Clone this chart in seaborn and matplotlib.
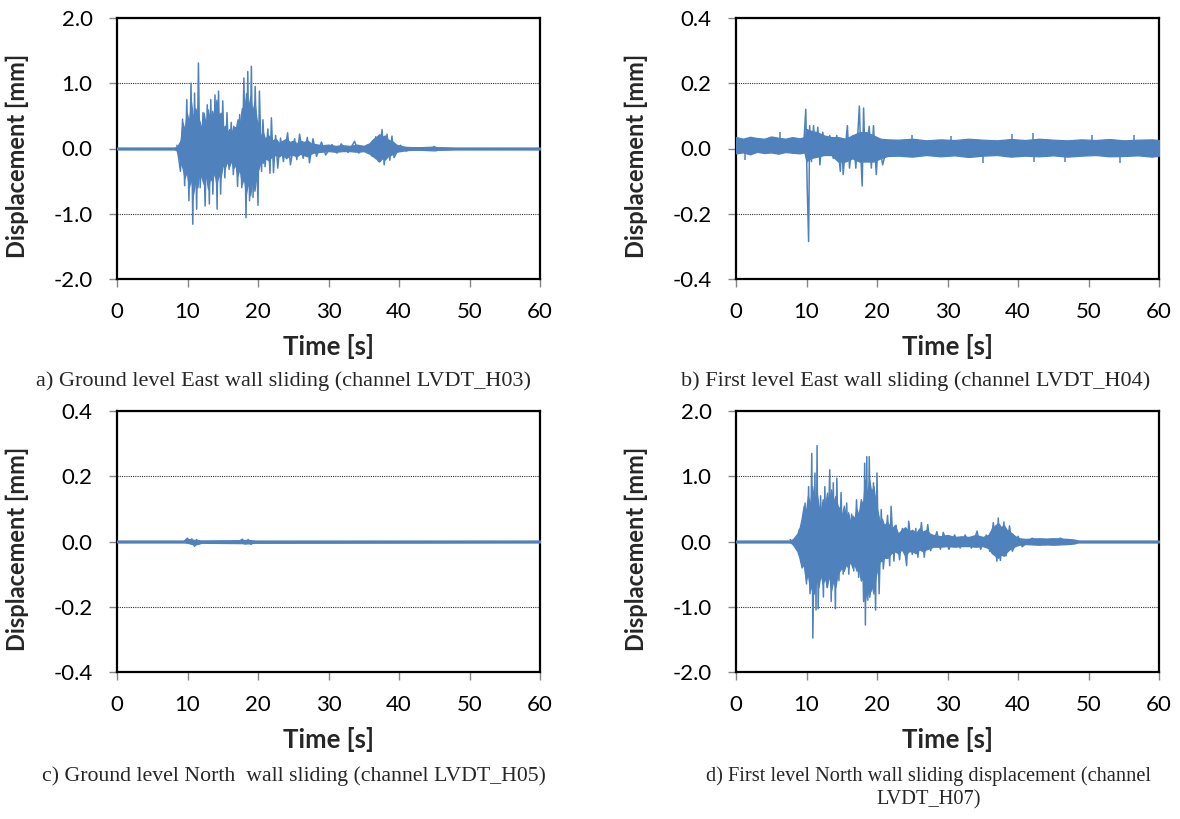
import matplotlib
matplotlib.use("Agg")
import matplotlib.pyplot as plt
import pandas as pd
import seaborn as sns
from matplotlib.ticker import FormatStrFormatter, MultipleLocator

sns.set_theme(style="white")
plt.rcParams["font.family"] = ["Lato", "DejaVu Sans"]
plt.rcParams["axes.unicode_minus"] = False

BLUE = "#4F81BD"

# ---------------- a) LVDT_H03 : ground level, East wall ----------------
# dense core of the record (upper / lower envelope)
a_env_t = [0, 8.0,
           8.4, 8.7, 9.0, 9.3, 9.6, 9.9, 10.2, 10.5, 10.8, 11.1, 11.4, 11.7, 12.0, 12.3, 12.6,
           12.9, 13.2, 13.5, 13.8, 14.1, 14.4, 14.7, 15.0, 15.3, 15.6, 15.9, 16.2, 16.5, 16.8,
           17.1, 17.4, 17.7, 18.0, 18.3, 18.6, 18.9, 19.2, 19.5, 19.8, 20.1, 20.4, 20.7, 21.0,
           21.5, 22.0, 22.5, 23.0, 23.5, 24.0, 24.5, 25.0, 25.5, 26.0, 26.5, 27.0, 27.5, 28.0,
           29.0, 30.0, 31.0, 32.0, 33.0, 34.0, 35.0, 35.8, 36.3, 36.8, 37.2, 37.6, 38.0, 38.4,
           38.8, 39.2, 39.6, 40.2, 41.0, 42.0, 43.0, 44.0, 45.0, 45.5, 46.0, 48.0, 52.0, 56.0,
           60.0]
a_env_hi = [0.015, 0.015,
            0.02, 0.06, 0.12, 0.40, 0.28, 0.55, 0.40, 0.72, 0.45, 0.62, 0.50, 0.42, 0.30, 0.55,
            0.35, 0.60, 0.40, 0.58, 0.45, 0.75, 0.50, 0.55, 0.30, 0.35, 0.22, 0.30, 0.20, 0.35,
            0.28, 0.45, 0.35, 0.62, 0.50, 0.85, 0.60, 0.80, 0.55, 0.72, 0.45, 0.35, 0.18, 0.25,
            0.15,
            0.20, 0.12, 0.15, 0.08, 0.12, 0.15, 0.10, 0.12, 0.08, 0.12, 0.10, 0.12, 0.08, 0.07,
            0.05, 0.06, 0.04, 0.05, 0.04, 0.06, 0.04, 0.08, 0.14, 0.18, 0.22, 0.18, 0.20, 0.14,
            0.12, 0.10, 0.06, 0.04, 0.025, 0.02, 0.02, 0.025, 0.03, 0.02, 0.02, 0.015, 0.015,
            0.015, 0.015]
a_env_lo = [-0.015, -0.015,
            -0.02, -0.10, -0.22, -0.30, -0.45, -0.35, -0.60, -0.45, -0.70, -0.50, -0.60, -0.35,
            -0.45, -0.55, -0.40, -0.62, -0.45, -0.50, -0.35, -0.55, -0.40, -0.45, -0.25, -0.30,
            -0.20, -0.28, -0.18, -0.30, -0.25, -0.42, -0.30, -0.55, -0.45, -0.70, -0.50, -0.72,
            -0.45, -0.65, -0.40, -0.30, -0.20, -0.22, -0.15,
            -0.18, -0.12, -0.10, -0.12, -0.08, -0.15, -0.10, -0.10, -0.12, -0.08, -0.10, -0.12,
            -0.08, -0.06, -0.05, -0.04, -0.05, -0.04, -0.04, -0.05, -0.04, -0.08, -0.12, -0.16,
            -0.20, -0.15, -0.17, -0.12, -0.10, -0.08, -0.05, -0.04, -0.025, -0.02, -0.02, -0.025,
            -0.03, -0.02, -0.02, -0.015, -0.015, -0.015, -0.015]
# individual peaks
a_pk_t = [8.5, 9.0, 9.3, 9.6, 9.9, 10.2, 10.5, 10.75, 11.0, 11.3, 11.55, 11.8, 12.2, 12.5, 12.8,
          13.1, 13.3, 13.6, 13.9, 14.2, 14.4, 14.7, 15.0, 15.3, 15.6, 15.9, 16.2, 16.5, 16.8,
          17.1, 17.4, 17.7, 18.0, 18.3, 18.55, 18.8, 19.06, 19.3, 19.6, 20.0, 20.2, 20.5, 20.7,
          21.0, 21.4, 21.7, 21.9, 22.2, 22.5, 22.8, 23.2, 23.6, 24.2, 24.6, 25.2, 25.5, 25.9,
          26.4, 27.0, 27.3, 27.8, 28.3, 29.0, 29.6, 30.5, 31.2, 31.8, 32.8, 33.7, 34.3, 35.5,
          36.2, 36.7, 37.1, 37.6, 37.9, 38.3, 38.7, 39.0, 39.3, 40.2, 41.0, 42.0, 44.7, 45.0,
          45.3, 46.0]
a_pk_v = [0.05, -0.35, 0.45, -0.57, 0.75, -0.80, 1.00, -1.16, 0.85, -0.93, 1.31, -0.60, 0.55,
          -0.88, 0.67, -0.85, 0.75, -0.70, 0.82, -0.93, 0.88, -0.70, 0.73, -0.45, 0.55, -0.32,
          0.40, -0.40, 0.32, -0.58, 0.52, -0.60, 1.08, -1.06, 1.18, -0.80, 1.26, -0.75, 0.95,
          -0.87, 0.88, -0.35, 0.44, -0.28, 0.30, -0.38, 0.47, -0.37, 0.20, -0.30, 0.16, -0.20,
          0.24, -0.25, 0.15, -0.17, 0.22, -0.15, 0.17, -0.22, 0.15, -0.12, 0.10, -0.10, 0.06,
          -0.07, 0.07, -0.06, 0.11, -0.07, 0.05, -0.12, 0.18, -0.20, 0.29, -0.25, 0.22, -0.18,
          0.19, -0.14, 0.05, -0.04, 0.01, 0.0, 0.03, -0.03, 0.01]

# ---------------- b) LVDT_H04 : first level, East wall ----------------
b_env_t = [0, 1, 2, 3, 4, 5, 6, 7, 8, 9, 9.7,
           10.0, 10.5, 11.5, 12.5, 13.5, 14.5, 15.5, 16.5, 17.5, 18.5, 19.5, 20.5, 21.5,
           23, 25, 27, 29, 31, 33, 35, 37, 39, 41, 43, 45, 47, 49, 51, 53, 55, 57, 59, 60]
b_env_hi = [0.035, 0.030, 0.036, 0.032, 0.030, 0.037, 0.033, 0.030, 0.035, 0.031, 0.035,
            0.060, 0.055, 0.050, 0.040, 0.035, 0.035, 0.030, 0.040, 0.050, 0.050, 0.040, 0.030,
            0.028,
            0.027, 0.030, 0.025, 0.028, 0.026, 0.030, 0.027, 0.025, 0.029, 0.026, 0.030, 0.027,
            0.025, 0.028, 0.026, 0.029, 0.025, 0.027, 0.028, 0.026]
b_env_lo = [-0.015, -0.012, -0.018, -0.010, -0.014, -0.012, -0.016, -0.011, -0.013, -0.015,
            -0.012,
            -0.040, -0.030, -0.025, -0.020, -0.020, -0.040, -0.040, -0.030, -0.040, -0.040,
            -0.040, -0.030, -0.023,
            -0.022, -0.025, -0.020, -0.024, -0.021, -0.026, -0.022, -0.020, -0.025, -0.022,
            -0.024, -0.021, -0.025, -0.022, -0.020, -0.024, -0.023, -0.021, -0.025, -0.022]
b_pk_t = [9.6, 9.9, 10.1, 10.3, 10.45, 10.7, 11.0, 11.3, 11.6, 11.9, 12.3, 12.8, 13.3, 13.8,
          14.3, 14.8, 15.0, 15.2, 15.5, 15.8, 16.1, 16.6, 17.0, 17.5, 17.7, 17.9, 18.1, 18.3,
          18.9, 19.2, 19.5, 19.9, 20.2, 20.8, 21.5]
b_pk_v = [0.01, 0.12, -0.12, -0.285, 0.07, -0.04, 0.07, -0.02, 0.065, -0.05, 0.05, -0.02, 0.04,
          -0.03, 0.04, -0.07, 0.03, -0.08, 0.0, 0.07, -0.06, 0.04, -0.06, 0.13, -0.02, -0.115,
          0.124, -0.03, 0.068, -0.06, 0.07, -0.08, 0.03, -0.05, 0.01]
b_spike_t = [1.3, 6.2, 25.0, 30.5, 35.0, 39.1, 42.1, 42.3, 46.6, 50.5, 54.4, 56.5]
b_spike_v = [-0.035, 0.05, 0.04, 0.038, -0.044, 0.045, 0.046, -0.042, -0.042, 0.04, -0.044, 0.04]

# ---------------- c) LVDT_H05 : ground level, North wall ----------------
c_env_t = [0, 9.5, 10.0, 11.0, 12.0, 17.5, 18.5, 19.5, 60]
c_env_hi = [0.003, 0.003, 0.008, 0.005, 0.003, 0.004, 0.005, 0.003, 0.003]
c_env_lo = [-0.003, -0.003, -0.004, -0.010, -0.004, -0.005, -0.006, -0.004, -0.003]
c_pk_t = [9.6, 10.0, 10.3, 10.6, 11.0, 11.3, 11.6, 12.0, 17.3, 17.8, 18.2, 18.6, 19.0, 19.4]
c_pk_v = [0.002, 0.010, -0.004, 0.008, -0.015, 0.006, -0.007, 0.0, 0.0, 0.007, -0.008, 0.006,
          -0.009, 0.0]

# ---------------- d) LVDT_H07 : first level, North wall ----------------
d_env_t = [0, 7.5,
           7.8, 8.1, 8.4, 8.7, 9.0, 9.3, 9.6, 9.9, 10.2, 10.5, 10.8, 11.1, 11.4, 11.7, 12.0,
           12.3, 12.6, 12.9, 13.2, 13.5, 13.8, 14.1, 14.4, 14.7, 15.0, 15.3, 15.6, 15.9, 16.2,
           16.5, 16.8, 17.1, 17.4, 17.7, 18.0, 18.3, 18.6, 18.9, 19.2, 19.5, 19.8, 20.1, 20.4,
           20.7, 21.0,
           21.5, 22.0, 22.5, 23.0, 23.5, 24.0, 24.5, 25.0, 25.5, 26.0, 26.5, 27.0, 27.5, 28.0,
           29.0, 30.0, 31.0, 32.0, 33.0, 34.0, 35.0, 35.8, 36.3, 36.8, 37.2, 37.6, 38.0, 38.4,
           38.8, 39.2, 39.6, 40.2, 41.0, 42.0, 43.0, 44.0, 45.0, 46.0, 47.0, 48.0, 48.5, 52.0,
           56.0, 60.0]
d_env_hi = [0.015, 0.015,
            0.02, 0.04, 0.08, 0.12, 0.20, 0.35, 0.55, 0.45, 0.70, 0.55, 0.85, 0.60, 0.80, 0.55,
            0.45, 0.65, 0.50, 0.75, 0.55, 0.80, 0.60, 0.70, 0.55, 0.50, 0.40, 0.55, 0.35, 0.45,
            0.30, 0.40, 0.35, 0.50, 0.40, 0.65, 0.55, 0.95, 0.70, 0.95, 0.75, 0.85, 0.60, 0.45,
            0.30, 0.35, 0.25,
            0.30, 0.18, 0.25, 0.12, 0.18, 0.22, 0.15, 0.18, 0.12, 0.20, 0.15, 0.18, 0.12, 0.10,
            0.08, 0.10, 0.07, 0.08, 0.07, 0.10, 0.07, 0.10, 0.20, 0.25, 0.28, 0.22, 0.25, 0.18,
            0.15, 0.12, 0.08, 0.05, 0.04, 0.045, 0.05, 0.045, 0.05, 0.045, 0.04, 0.03, 0.015,
            0.015, 0.015, 0.015]
d_env_lo = [-0.015, -0.015,
            -0.02, -0.05, -0.10, -0.15, -0.25, -0.40, -0.35, -0.60, -0.50, -0.75, -0.65, -0.80,
            -0.55, -0.70, -0.50, -0.65, -0.55, -0.70, -0.50, -0.75, -0.60, -0.70, -0.50, -0.45,
            -0.40, -0.45, -0.35, -0.40, -0.30, -0.40, -0.35, -0.45, -0.40, -0.60, -0.55, -0.90,
            -0.70, -0.85, -0.65, -0.80, -0.55, -0.40, -0.30, -0.30, -0.25,
            -0.25, -0.18, -0.15, -0.18, -0.12, -0.22, -0.15, -0.15, -0.18, -0.12, -0.15, -0.12,
            -0.10, -0.08, -0.08, -0.07, -0.08, -0.07, -0.07, -0.08, -0.07, -0.10, -0.18, -0.22,
            -0.25, -0.20, -0.22, -0.16, -0.12, -0.10, -0.07, -0.05, -0.04, -0.045, -0.05, -0.045,
            -0.05, -0.045, -0.04, -0.03, -0.015, -0.015, -0.015, -0.015]
d_pk_t = [7.7, 8.5, 9.0, 9.3, 9.8, 10.0, 10.3, 10.5, 10.75, 10.9, 11.2, 11.35, 11.5, 11.65, 12.0,
          12.4, 12.6, 12.9, 13.3, 13.5, 13.8, 14.1, 14.3, 14.6, 14.9, 15.2, 15.7, 16.0, 16.4,
          16.7, 17.1, 17.4, 17.8, 18.1, 18.25, 18.35, 18.55, 18.7, 18.9, 19.2, 19.5, 19.8, 20.0,
          20.3, 20.6, 20.9, 21.5, 21.8, 22.0, 22.4, 22.7, 23.2, 23.6, 24.2, 24.5, 25.0, 25.5,
          25.8, 26.3, 26.7, 27.2, 27.6, 28.5, 29.0, 29.4, 30.2, 31.0, 31.8, 32.5, 33.4, 34.2,
          34.7, 35.5, 36.0, 36.5, 37.0, 37.2, 37.5, 38.0, 38.3, 38.8, 39.2, 40.0, 40.6, 42.0,
          44.0, 46.0, 47.5, 48.5]
d_pk_v = [0.03, -0.08, 0.19, -0.32, 0.59, -0.65, 0.84, -0.80, 1.35, -1.48, 1.05, -1.05, 1.47,
          -1.03, 0.70, -0.85, 0.84, -0.70, 1.10, -0.92, 0.90, -1.03, 0.97, -0.60, 0.75, -0.50,
          0.59, -0.50, 0.42, -0.45, 0.64, -0.55, 0.60, -0.92, 1.20, -1.28, 1.30, -0.90, 1.30,
          -0.76, 0.90, -1.05, 1.05, -0.80, 0.49, -0.42, 0.40, -0.37, 0.54, -0.30, 0.25, -0.28,
          0.20, -0.37, 0.31, -0.20, 0.20, -0.24, 0.29, -0.24, 0.26, -0.14, 0.15, -0.12, 0.14,
          -0.12, 0.10, -0.10, 0.10, -0.10, 0.16, -0.12, 0.10, -0.15, 0.29, -0.30, 0.36, -0.29,
          0.30, -0.22, 0.24, -0.15, 0.08, -0.08, 0.05, -0.05, 0.05, -0.04, 0.01]

captions = [
    "a) Ground level East wall sliding (channel LVDT_H03)",
    "b) First level East wall sliding (channel LVDT_H04)",
    "c) Ground level North  wall sliding (channel LVDT_H05)",
    "d) First level North wall sliding displacement (channel\nLVDT_H07)",
]

W, H = 1180, 819
fig = plt.figure(figsize=(W / 100, H / 100), dpi=100)


def axes_px(left, top, right, bottom):
    return fig.add_axes([left / W, 1 - bottom / H, (right - left) / W, (bottom - top) / H])


def draw_panel(ax, env_t, env_hi, env_lo, pk_t, pk_v, ylim, ystep, spikes=None):
    ax.fill_between(env_t, env_lo, env_hi, color=BLUE, edgecolor=BLUE, lw=0.9, zorder=3)
    trace = pd.DataFrame({"t": pk_t, "v": pk_v})
    sns.lineplot(data=trace, x="t", y="v", ax=ax, color=BLUE, lw=1.1,
                 estimator=None, sort=False, zorder=4)
    if spikes is not None:
        ax.vlines(spikes[0], 0, spikes[1], color=BLUE, lw=1.1, zorder=4)

    ax.set_xlim(0, 60)
    ax.set_ylim(*ylim)
    ax.xaxis.set_major_locator(MultipleLocator(10))
    ax.yaxis.set_major_locator(MultipleLocator(ystep))
    ax.yaxis.set_major_formatter(FormatStrFormatter("%.1f"))
    ax.yaxis.grid(True, linestyle=(0, (1, 1)), color="#333333", lw=0.8, zorder=1)
    ax.xaxis.grid(False)
    ax.set_axisbelow(True)
    for sp in ax.spines.values():
        sp.set_color("black")
        sp.set_linewidth(1.6)
    ax.tick_params(axis="both", which="major", direction="out", length=5.5, width=1,
                   color="#868686", labelsize=16, labelcolor="black",
                   bottom=True, left=True)
    ax.tick_params(axis="x", pad=11)
    ax.tick_params(axis="y", pad=12)
    ax.set_xlabel("Time [s]", fontsize=18.5, fontweight="bold", va="center")
    ax.xaxis.set_label_coords(0.5, -0.26)
    ax.set_ylabel("Displacement [mm]", fontsize=17, fontweight="bold", va="center")
    ax.yaxis.set_label_coords(-0.235, 0.47)


ax_a = axes_px(117, 18, 540, 279)
ax_b = axes_px(736, 18, 1159, 279)
ax_c = axes_px(117, 411, 540, 672)
ax_d = axes_px(736, 411, 1159, 672)

draw_panel(ax_a, a_env_t, a_env_hi, a_env_lo, a_pk_t, a_pk_v, (-2.0, 2.0), 1.0)
draw_panel(ax_b, b_env_t, b_env_hi, b_env_lo, b_pk_t, b_pk_v, (-0.4, 0.4), 0.2,
           spikes=(b_spike_t, b_spike_v))
draw_panel(ax_c, c_env_t, c_env_hi, c_env_lo, c_pk_t, c_pk_v, (-0.4, 0.4), 0.2)
draw_panel(ax_d, d_env_t, d_env_hi, d_env_lo, d_pk_t, d_pk_v, (-2.0, 2.0), 1.0)

cap_font = dict(family=["Liberation Serif", "DejaVu Serif"], ha="center",
                va="center", multialignment="center")
fig.text(283 / W, 1 - 381 / H, captions[0], fontsize=16, **cap_font)
fig.text(916 / W, 1 - 381 / H, captions[1], fontsize=16, **cap_font)
fig.text(294 / W, 1 - 776 / H, captions[2], fontsize=15.7, **cap_font)
fig.text(929 / W, 1 - 788 / H, captions[3], fontsize=14.7, linespacing=1.25, **cap_font)

fig.savefig("out.png", dpi=100, facecolor="white")
